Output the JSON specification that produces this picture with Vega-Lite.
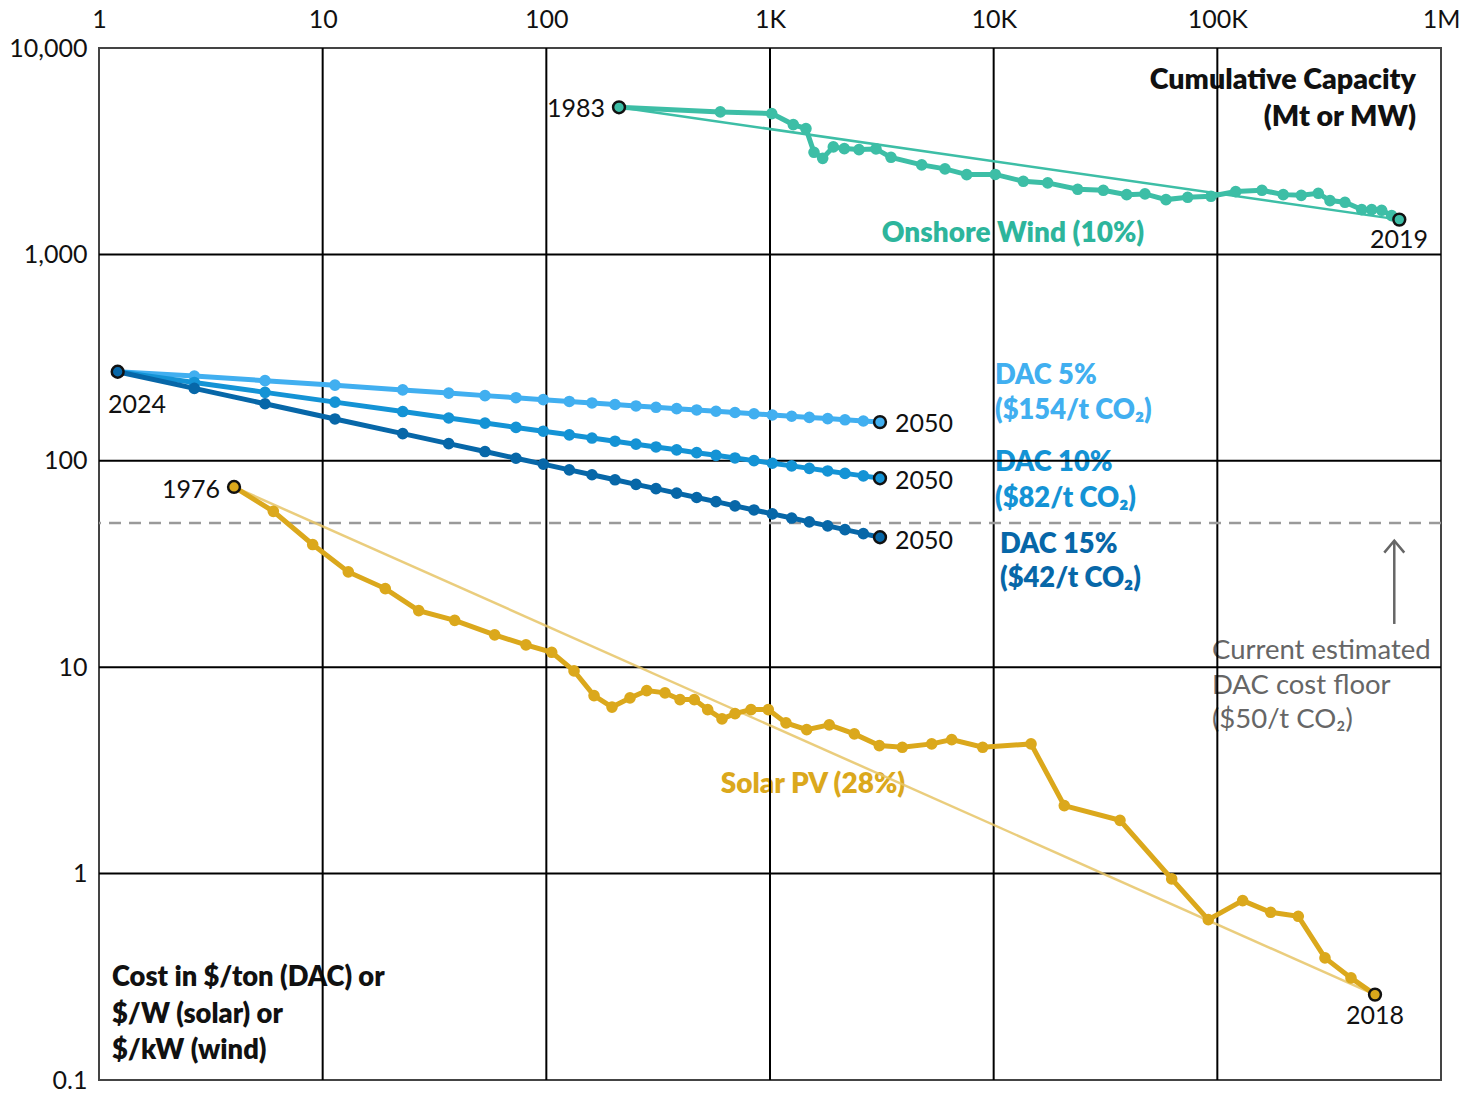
{
  "$schema": "https://vega.github.io/schema/vega-lite/v6.json",
  "width": 1342,
  "height": 1032,
  "autosize": {"type": "none"},
  "padding": {"left": 99, "top": 48, "right": 33, "bottom": 13},
  "background": "white",
  "config": {
    "view": {"stroke": "#444", "strokeWidth": 2},
    "font": "Lato",
    "legend": {"disable": true}
  },
  "resolve": {"axis": {"x": "independent", "y": "independent"}},
  "datasets": {
    "series": [
      {"s":"wind","x":211.3,"y":5161},{"s":"wind","x":599.6,"y":4902},{"s":"wind","x":1018,"y":4811},{"s":"wind","x":1271,"y":4256},{"s":"wind","x":1448,"y":4069},{"s":"wind","x":1573,"y":3124},{"s":"wind","x":1720,"y":2921},{"s":"wind","x":1919,"y":3318},{"s":"wind","x":2149,"y":3255},{"s":"wind","x":2500,"y":3219},{"s":"wind","x":2978,"y":3244},{"s":"wind","x":3475,"y":2954},{"s":"wind","x":4767,"y":2714},{"s":"wind","x":6059,"y":2596},{"s":"wind","x":7576,"y":2436},{"s":"wind","x":10170,"y":2440},{"s":"wind","x":13570,"y":2261},{"s":"wind","x":17440,"y":2220},{"s":"wind","x":23750,"y":2068},{"s":"wind","x":30920,"y":2045},{"s":"wind","x":39330,"y":1948},{"s":"wind","x":47480,"y":1964},{"s":"wind","x":58940,"y":1843},{"s":"wind","x":73700,"y":1891},{"s":"wind","x":93670,"y":1912},{"s":"wind","x":120800,"y":2015},{"s":"wind","x":158300,"y":2045},{"s":"wind","x":197100,"y":1948},{"s":"wind","x":237300,"y":1933},{"s":"wind","x":282700,"y":1977},{"s":"wind","x":318900,"y":1823},{"s":"wind","x":372100,"y":1788},{"s":"wind","x":442000,"y":1649},{"s":"wind","x":489800,"y":1649},{"s":"wind","x":542900,"y":1636},{"s":"wind","x":601800,"y":1542},{"s":"wind","x":651000,"y":1474},
      {"s":"solar","x":4.015,"y":74.7},{"s":"solar","x":6.016,"y":56.9},{"s":"solar","x":9.024,"y":39.3},{"s":"solar","x":13.02,"y":28.95},{"s":"solar","x":19.05,"y":24.04},{"s":"solar","x":26.88,"y":18.8},{"s":"solar","x":38.93,"y":16.87},{"s":"solar","x":58.76,"y":14.34},{"s":"solar","x":81.1,"y":12.83},{"s":"solar","x":105.7,"y":11.81},{"s":"solar","x":133,"y":9.596},{"s":"solar","x":163.4,"y":7.286},{"s":"solar","x":196.6,"y":6.408},{"s":"solar","x":236.6,"y":7.1},{"s":"solar","x":281,"y":7.703},{"s":"solar","x":339.3,"y":7.508},{"s":"solar","x":396,"y":6.966},{"s":"solar","x":458.7,"y":6.966},{"s":"solar","x":526.5,"y":6.231},{"s":"solar","x":610.1,"y":5.617},{"s":"solar","x":697.5,"y":5.96},{"s":"solar","x":822.4,"y":6.231},{"s":"solar","x":982.6,"y":6.231},{"s":"solar","x":1179,"y":5.372},{"s":"solar","x":1459,"y":4.985},{"s":"solar","x":1841,"y":5.254},{"s":"solar","x":2382,"y":4.752},{"s":"solar","x":3081,"y":4.171},{"s":"solar","x":3904,"y":4.092},{"s":"solar","x":5284,"y":4.25},{"s":"solar","x":6492,"y":4.459},{"s":"solar","x":8932,"y":4.092},{"s":"solar","x":14690,"y":4.25},{"s":"solar","x":20690,"y":2.135},{"s":"solar","x":36710,"y":1.812},{"s":"solar","x":62520,"y":0.9426},{"s":"solar","x":91110,"y":0.5986},{"s":"solar","x":129800,"y":0.74},{"s":"solar","x":173200,"y":0.6494},{"s":"solar","x":230100,"y":0.6211},{"s":"solar","x":302900,"y":0.3905},{"s":"solar","x":395900,"y":0.3124},{"s":"solar","x":506900,"y":0.2593},
      {"s":"dac5","x":1.212,"y":270},{"s":"dac5","x":2.668,"y":257.5},{"s":"dac5","x":5.525,"y":244.5},{"s":"dac5","x":11.35,"y":232.5},{"s":"dac5","x":22.8,"y":220.5},{"s":"dac5","x":36.6,"y":212.8},{"s":"dac5","x":53.19,"y":206.9},{"s":"dac5","x":73.17,"y":202.1},{"s":"dac5","x":96.92,"y":197.8},{"s":"dac5","x":126.7,"y":193.9},{"s":"dac5","x":160,"y":190.6},{"s":"dac5","x":202.8,"y":187.4},{"s":"dac5","x":251.7,"y":184.4},{"s":"dac5","x":309.3,"y":181.7},{"s":"dac5","x":382.6,"y":178.9},{"s":"dac5","x":470.2,"y":176.3},{"s":"dac5","x":573.6,"y":173.8},{"s":"dac5","x":697.5,"y":171.4},{"s":"dac5","x":848,"y":169.0},{"s":"dac5","x":1024,"y":166.7},{"s":"dac5","x":1250,"y":164.4},{"s":"dac5","x":1499,"y":162.3},{"s":"dac5","x":1811,"y":160.1},{"s":"dac5","x":2164,"y":158.0},{"s":"dac5","x":2614,"y":155.9},{"s":"dac5","x":3103,"y":154},
      {"s":"dac10","x":1.212,"y":270},{"s":"dac10","x":2.668,"y":239.7},{"s":"dac10","x":5.525,"y":214.6},{"s":"dac10","x":11.35,"y":192.4},{"s":"dac10","x":22.8,"y":173.2},{"s":"dac10","x":36.6,"y":161.2},{"s":"dac10","x":53.19,"y":152.3},{"s":"dac10","x":73.17,"y":145.1},{"s":"dac10","x":96.92,"y":139.1},{"s":"dac10","x":126.7,"y":133.6},{"s":"dac10","x":160,"y":128.9},{"s":"dac10","x":202.8,"y":124.4},{"s":"dac10","x":251.7,"y":120.4},{"s":"dac10","x":309.3,"y":116.7},{"s":"dac10","x":382.6,"y":113.0},{"s":"dac10","x":470.2,"y":109.5},{"s":"dac10","x":573.6,"y":106.3},{"s":"dac10","x":697.5,"y":103.2},{"s":"dac10","x":848,"y":100.2},{"s":"dac10","x":1024,"y":97.3},{"s":"dac10","x":1250,"y":94.5},{"s":"dac10","x":1499,"y":91.9},{"s":"dac10","x":1811,"y":89.3},{"s":"dac10","x":2164,"y":86.9},{"s":"dac10","x":2614,"y":84.5},{"s":"dac10","x":3103,"y":82.3},
      {"s":"dac15","x":1.212,"y":270},{"s":"dac15","x":2.668,"y":224.3},{"s":"dac15","x":5.525,"y":189.0},{"s":"dac15","x":11.35,"y":159.5},{"s":"dac15","x":22.8,"y":135.4},{"s":"dac15","x":36.6,"y":121.1},{"s":"dac15","x":53.19,"y":110.9},{"s":"dac15","x":73.17,"y":102.9},{"s":"dac15","x":96.92,"y":96.3},{"s":"dac15","x":126.7,"y":90.4},{"s":"dac15","x":160,"y":85.6},{"s":"dac15","x":202.8,"y":80.9},{"s":"dac15","x":251.7,"y":76.9},{"s":"dac15","x":309.3,"y":73.3},{"s":"dac15","x":382.6,"y":69.7},{"s":"dac15","x":470.2,"y":66.4},{"s":"dac15","x":573.6,"y":63.4},{"s":"dac15","x":697.5,"y":60.5},{"s":"dac15","x":848,"y":57.8},{"s":"dac15","x":1024,"y":55.3},{"s":"dac15","x":1250,"y":52.8},{"s":"dac15","x":1499,"y":50.6},{"s":"dac15","x":1811,"y":48.4},{"s":"dac15","x":2164,"y":46.4},{"s":"dac15","x":2614,"y":44.4},{"s":"dac15","x":3103,"y":42.6}
    ],
    "ends": [
      {"s":"wind","x":211.3,"y":5161},{"s":"wind","x":651000,"y":1474},
      {"s":"solar","x":4.015,"y":74.7},{"s":"solar","x":506900,"y":0.2593},
      {"s":"dac15","x":1.212,"y":270},
      {"s":"dac5","x":3103,"y":154},{"s":"dac10","x":3103,"y":82.3},{"s":"dac15","x":3103,"y":42.6}
    ],
    "trend": [
      {"s":"windTrend","x":211.3,"y":5161},{"s":"windTrend","x":651000,"y":1474},
      {"s":"solarTrend","x":4.015,"y":74.7},{"s":"solarTrend","x":506900,"y":0.2593}
    ],
    "gridx": [{"g":10},{"g":100},{"g":1000},{"g":10000},{"g":100000}],
    "gridy": [{"g":1},{"g":10},{"g":100},{"g":1000}],
    "floor": [{"y":50}],
    "arrow": [{"x":618200,"y":41.06,"y2":16.2}]
  },
  "layer": [
    {
      "data": {"values": [
        {"s":"dac5","t":"DAC 5%","x":10140,"y":258.7},
        {"s":"dac5","t":"($154/t CO₂)","x":10140,"y":175.1},
        {"s":"dac10","t":"DAC 10%","x":10140,"y":98.0},
        {"s":"dac10","t":"($82/t CO₂)","x":10140,"y":65.6},
        {"s":"dac15","t":"DAC 15%","x":10670,"y":39.26},
        {"s":"dac15","t":"($42/t CO₂)","x":10670,"y":26.88},
        {"s":"black","t":"Cost in $/ton (DAC) or","x":1.143,"y":0.3133},
        {"s":"black","t":"$/W (solar) or","x":1.143,"y":0.2074},
        {"s":"black","t":"$/kW (wind)","x":1.143,"y":0.1388}
      ]},
      "mark": {"type":"text","align":"left","baseline":"middle","fontWeight":800,"fontSize":27.3},
      "encoding": {
        "x": {"field":"x","type":"quantitative","scale":{"type":"log","domain":[1,1000000]},"axis":null},
        "y": {"field":"y","type":"quantitative","scale":{"type":"log","domain":[0.1,10000]},"axis":null},
        "text": {"field":"t"},
        "color": {"field":"s","type":"nominal","scale":{"domain":["wind","solar","dac5","dac10","dac15","windTrend","solarTrend","black","gray","windText"],"range":["#3dbea6","#dba81c","#41aff0","#1493d5","#0767a8","#3dbea6","#e6c466","#111111","#666666","#2db59c"]}}
      }
    },
    {
      "data": {"values": [
        {"s":"windText","t":"Onshore Wind (10%)","x":12200,"y":1261},
        {"s":"solar","t":"Solar PV (28%)","x":1557,"y":2.699}
      ]},
      "mark": {"type":"text","align":"center","baseline":"middle","fontWeight":800,"fontSize":28},
      "encoding": {
        "x": {"field":"x","type":"quantitative","scale":{"type":"log","domain":[1,1000000]},"axis":null},
        "y": {"field":"y","type":"quantitative","scale":{"type":"log","domain":[0.1,10000]},"axis":null},
        "text": {"field":"t"},
        "color": {"field":"s","type":"nominal"}
      }
    },
    {
      "data": {"values": [
        {"s":"black","t":"Cumulative Capacity","x":773000,"y":7027},
        {"s":"black","t":"(Mt or MW)","x":773000,"y":4651}
      ]},
      "mark": {"type":"text","align":"right","baseline":"middle","fontWeight":800,"fontSize":28.6},
      "encoding": {
        "x": {"field":"x","type":"quantitative","scale":{"type":"log","domain":[1,1000000]},"axis":null},
        "y": {"field":"y","type":"quantitative","scale":{"type":"log","domain":[0.1,10000]},"axis":null},
        "text": {"field":"t"},
        "color": {"field":"s","type":"nominal"}
      }
    },
    {
      "data": {"values": [
        {"s":"black","t":"2050","x":3622,"y":151.4},
        {"s":"black","t":"2050","x":3622,"y":80.0},
        {"s":"black","t":"2050","x":3622,"y":41.06}
      ]},
      "mark": {"type":"text","align":"left","baseline":"middle","fontSize":25},
      "encoding": {
        "x": {"field":"x","type":"quantitative","scale":{"type":"log","domain":[1,1000000]},"axis":null},
        "y": {"field":"y","type":"quantitative","scale":{"type":"log","domain":[0.1,10000]},"axis":null},
        "text": {"field":"t"},
        "color": {"field":"s","type":"nominal"}
      }
    },
    {
      "data": {"values": [
        {"s":"gray","t":"Current estimated","x":94650,"y":12.04},
        {"s":"gray","t":"DAC cost floor","x":94650,"y":8.14},
        {"s":"gray","t":"($50/t CO₂)","x":94650,"y":5.573}
      ]},
      "mark": {"type":"text","align":"left","baseline":"middle","fontSize":27.5},
      "encoding": {
        "x": {"field":"x","type":"quantitative","scale":{"type":"log","domain":[1,1000000]},"axis":null},
        "y": {"field":"y","type":"quantitative","scale":{"type":"log","domain":[0.1,10000]},"axis":null},
        "text": {"field":"t"},
        "color": {"field":"s","type":"nominal"}
      }
    },
    {
      "data": {"values": [
        {"s":"black","t":"2024","x":1.479,"y":187.2},
        {"s":"black","t":"2019","x":649100,"y":1180},
        {"s":"black","t":"2018","x":506900,"y":0.2051}
      ]},
      "mark": {"type":"text","align":"center","baseline":"middle","fontSize":25},
      "encoding": {
        "x": {"field":"x","type":"quantitative","scale":{"type":"log","domain":[1,1000000]},"axis":null},
        "y": {"field":"y","type":"quantitative","scale":{"type":"log","domain":[0.1,10000]},"axis":null},
        "text": {"field":"t"},
        "color": {"field":"s","type":"nominal"}
      }
    },
    {
      "data": {"values": [
        {"s":"black","t":"1983","x":182.9,"y":5086},
        {"s":"black","t":"1976","x":3.475,"y":72.5}
      ]},
      "mark": {"type":"text","align":"right","baseline":"middle","fontSize":25},
      "encoding": {
        "x": {"field":"x","type":"quantitative","scale":{"type":"log","domain":[1,1000000]},"axis":null},
        "y": {"field":"y","type":"quantitative","scale":{"type":"log","domain":[0.1,10000]},"axis":null},
        "text": {"field":"t"},
        "color": {"field":"s","type":"nominal"}
      }
    },
    {
      "data": {"name": "gridx"},
      "mark": {"type":"rule","color":"#000000","strokeWidth":2},
      "encoding": {
        "x": {"field":"g","type":"quantitative","scale":{"type":"log","domain":[1,1000000]},"axis":null}
      }
    },
    {
      "data": {"name": "gridy"},
      "mark": {"type":"rule","color":"#000000","strokeWidth":2},
      "encoding": {
        "y": {"field":"g","type":"quantitative","scale":{"type":"log","domain":[0.1,10000]},"axis":null}
      }
    },
    {
      "data": {"name": "floor"},
      "mark": {"type":"rule","color":"#9a9a9a","strokeWidth":2.5,"strokeDash":[12,8]},
      "encoding": {
        "y": {"field":"y","type":"quantitative","scale":{"type":"log","domain":[0.1,10000]},"axis":null}
      }
    },
    {
      "data": {"name": "arrow"},
      "mark": {"type":"rule","color":"#666666","strokeWidth":2.5},
      "encoding": {
        "x": {"field":"x","type":"quantitative","scale":{"type":"log","domain":[1,1000000]},"axis":null},
        "y": {"field":"y","type":"quantitative","scale":{"type":"log","domain":[0.1,10000]},"axis":null},
        "y2": {"field":"y2"}
      }
    },
    {
      "data": {"name": "arrow"},
      "mark": {"type":"point","shape":"M-1,1.2L0,0L1,1.2","filled":false,"color":"#666666","strokeWidth":2.5,"size":400,"opacity":1},
      "encoding": {
        "x": {"field":"x","type":"quantitative","scale":{"type":"log","domain":[1,1000000]},"axis":null},
        "y": {"field":"y","type":"quantitative","scale":{"type":"log","domain":[0.1,10000]},"axis":null}
      }
    },
    {
      "data": {"name": "trend"},
      "transform": [{"filter": "datum.s == 'solarTrend'"}],
      "mark": {"type":"line","strokeWidth":2.5,"opacity":0.85},
      "encoding": {
        "x": {"field":"x","type":"quantitative","scale":{"type":"log","domain":[1,1000000]},"axis":null},
        "y": {"field":"y","type":"quantitative","scale":{"type":"log","domain":[0.1,10000]},"axis":null},
        "color": {"field":"s","type":"nominal"}
      }
    },
    {
      "data": {"name": "series"},
      "mark": {"type":"line","strokeWidth":5},
      "encoding": {
        "x": {"field":"x","type":"quantitative","scale":{"type":"log","domain":[1,1000000]},
          "axis": {"orient":"top","values":[1,10,100,1000,10000,100000,1000000],"labelExpr":"datum.value >= 1000000 ? '1M' : datum.value >= 1000 ? (datum.value/1000) + 'K' : '' + datum.value","title":null,"grid":false,"domain":false,"ticks":false,"tickSize":0,"labelPadding":16,"labelFontSize":25,"labelFont":"Lato","labelColor":"#111111","labelFlush":false,"labelOverlap":false,"labelBound":false}},
        "y": {"field":"y","type":"quantitative","scale":{"type":"log","domain":[0.1,10000]},
          "axis": {"values":[0.1,1,10,100,1000,10000],"labelExpr":"format(datum.value, ',')","title":null,"grid":false,"domain":false,"ticks":false,"tickSize":0,"labelPadding":12,"labelFontSize":25,"labelFont":"Lato","labelColor":"#111111","labelFlush":false,"labelOverlap":false,"labelBound":false}},
        "color": {"field":"s","type":"nominal"},
        "detail": {"field":"s"}
      }
    },
    {
      "data": {"name": "series"},
      "mark": {"type":"circle","opacity":1},
      "encoding": {
        "x": {"field":"x","type":"quantitative","scale":{"type":"log","domain":[1,1000000]},"axis":null},
        "y": {"field":"y","type":"quantitative","scale":{"type":"log","domain":[0.1,10000]},"axis":null},
        "color": {"field":"s","type":"nominal"},
        "size": {"field":"s","type":"nominal","scale":{"domain":["wind","solar","dac5","dac10","dac15"],"range":[135,135,80,80,80]}}
      }
    },
    {
      "data": {"name": "trend"},
      "transform": [{"filter": "datum.s == 'windTrend'"}],
      "mark": {"type":"line","strokeWidth":2.5},
      "encoding": {
        "x": {"field":"x","type":"quantitative","scale":{"type":"log","domain":[1,1000000]},"axis":null},
        "y": {"field":"y","type":"quantitative","scale":{"type":"log","domain":[0.1,10000]},"axis":null},
        "color": {"field":"s","type":"nominal"}
      }
    },
    {
      "data": {"name": "ends"},
      "mark": {"type":"point","filled":true,"stroke":"#111111","strokeWidth":2.5,"opacity":1,"strokeOpacity":1,"size":140},
      "encoding": {
        "x": {"field":"x","type":"quantitative","scale":{"type":"log","domain":[1,1000000]},"axis":null},
        "y": {"field":"y","type":"quantitative","scale":{"type":"log","domain":[0.1,10000]},"axis":null},
        "fill": {"field":"s","type":"nominal","scale":{"domain":["wind","solar","dac5","dac10","dac15"],"range":["#3dbea6","#dba81c","#41aff0","#1493d5","#0767a8"]}}
      }
    }
  ]
}
